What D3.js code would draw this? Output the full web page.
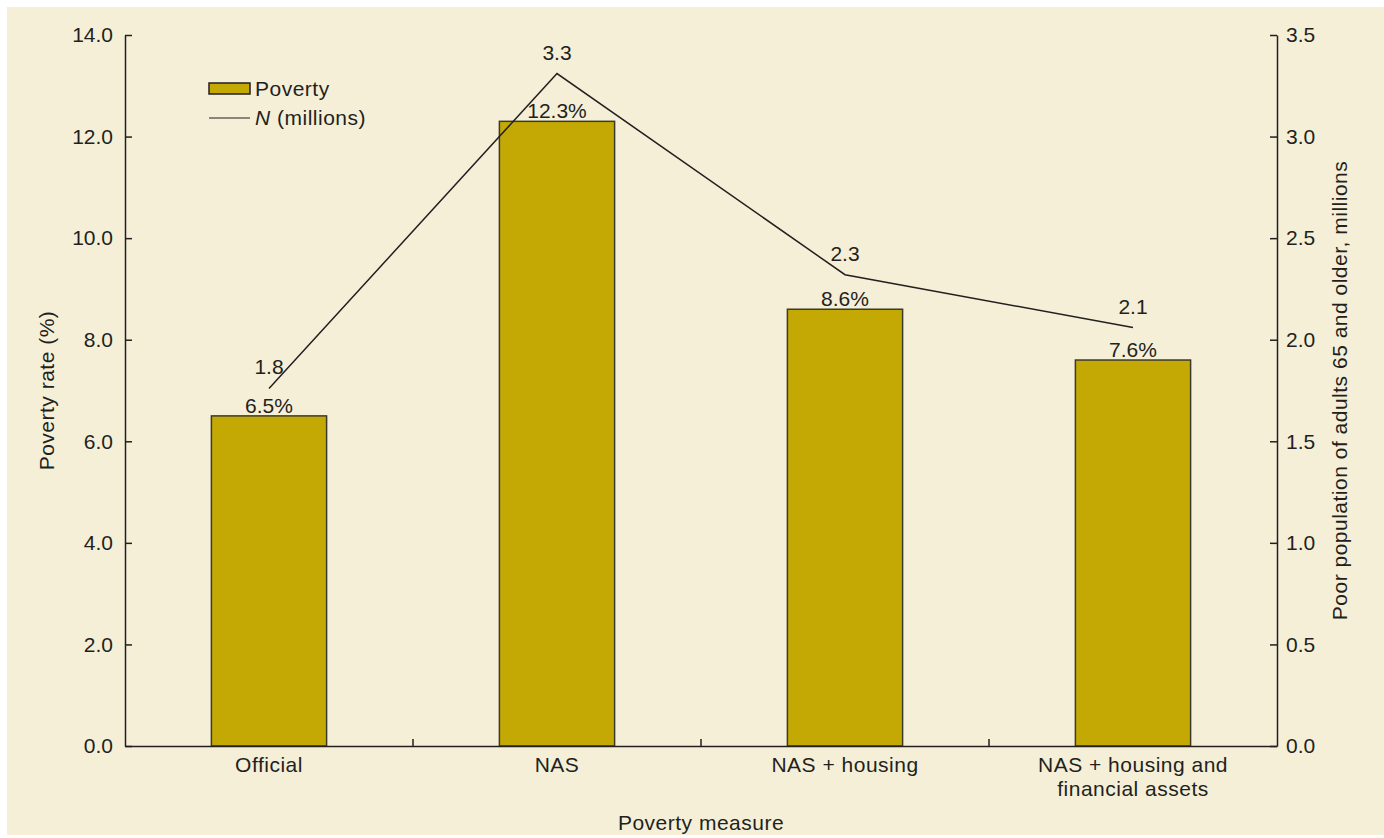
<!DOCTYPE html>
<html>
<head>
<meta charset="utf-8">
<script src="https://cdn.jsdelivr.net/npm/d3@7"></script>
<style>
  body { margin: 0; background: #fff; }
  svg text { font-family: "Liberation Sans", Arial, sans-serif; fill: #231f20; }
  svg text.word { letter-spacing: 0.5px; }
</style>
</head>
<body>
<script>
// poverty measures
var categories = ["Official", "NAS", "NAS + housing", "NAS + housing and financial assets"];
var povertyRate = [6.5, 12.3, 8.6, 7.6];      // bars, %
var poorMillions = [1.76, 3.31, 2.32, 2.06];   // line, millions
var leftTicks = [0, 2, 4, 6, 8, 10, 12, 14];
var rightTicks = [0, 0.5, 1, 1.5, 2, 2.5, 3, 3.5];

var W = 1384, H = 838;
var mLeft = 125, mRight = 1277, mTop = 35, mBottom = 746;
var fs = 21;

var svg = d3.select("body").append("svg")
        .attr("width", W)
        .attr("height", H);

// beige panel
svg.append("rect")
        .attr("x", 7).attr("y", 7)
        .attr("width", W - 7).attr("height", H - 10)
        .attr("fill", "#f5efd8");

var x = d3.scaleBand()
        .domain(categories)
        .range([mLeft, mRight])
        .paddingInner(0.6)
        .paddingOuter(0.3);

var yL = d3.scaleLinear().domain([0, 14]).range([mBottom, mTop]);
var yR = d3.scaleLinear().domain([0, 3.5]).range([mBottom, mTop]);

// bars
svg.selectAll("rect.bar")
        .data(povertyRate)
        .enter().append("rect")
                .attr("class", "bar")
                .attr("x", function(d, i){ return x(categories[i]); })
                .attr("y", function(d){ return yL(d); })
                .attr("width", x.bandwidth())
                .attr("height", function(d){ return mBottom - yL(d); })
                .attr("fill", "#c4a904")
                .attr("stroke", "#3b3a2c")
                .attr("stroke-width", 1.5);

// bar labels
svg.selectAll("text.barlab")
        .data(povertyRate)
        .enter().append("text")
                .attr("class", "barlab")
                .attr("x", function(d, i){ return x(categories[i]) + x.bandwidth() / 2; })
                .attr("y", function(d){ return yL(d) - 3; })
                .attr("text-anchor", "middle")
                .attr("font-size", fs)
                .text(function(d){ return d.toFixed(1) + "%"; });

// left axis
var axL = svg.append("g")
        .attr("transform", "translate(" + mLeft + ",0)")
        .call(d3.axisLeft(yL).tickValues(leftTicks).tickSizeInner(-7).tickSizeOuter(0).tickPadding(12)
                .tickFormat(d3.format(".1f")));

// right axis
var axR = svg.append("g")
        .attr("transform", "translate(" + mRight + ",0)")
        .call(d3.axisRight(yR).tickValues(rightTicks).tickSizeInner(-7).tickSizeOuter(0).tickPadding(9)
                .tickFormat(d3.format(".1f")));

// bottom axis, labels only
var axB = svg.append("g")
        .attr("transform", "translate(0," + mBottom + ")")
        .call(d3.axisBottom(x).tickSize(0).tickPadding(11));

[axL, axR, axB].forEach(function(g){
        g.selectAll("path.domain").attr("stroke", "#231f20").attr("stroke-width", 1.5);
        g.selectAll("line").attr("stroke", "#231f20").attr("stroke-width", 1.5);
        g.selectAll("text").attr("font-size", fs).attr("font-family", null).attr("fill", "#231f20");
});
axB.selectAll("text").attr("class", "word");

// wrap the long category into two lines
axB.selectAll(".tick text").each(function(d){
        if (d === categories[3]) {
                var t = d3.select(this);
                t.text(null);
                t.append("tspan").attr("x", 0).attr("dy", "0.71em").text("NAS + housing and");
                t.append("tspan").attr("x", 0).attr("dy", "1.15em").text("financial assets");
                t.attr("dy", null);
        }
});

// boundary ticks on x axis, pointing up
svg.selectAll("line.xtick")
        .data(categories.slice(1))
        .enter().append("line")
                .attr("class", "xtick")
                .attr("x1", function(d){ return x(d) - x.step() * x.paddingInner() / 2; })
                .attr("x2", function(d){ return x(d) - x.step() * x.paddingInner() / 2; })
                .attr("y1", mBottom)
                .attr("y2", mBottom - 7)
                .attr("stroke", "#231f20")
                .attr("stroke-width", 1.5);

// line for N (millions)
var line = d3.line()
        .x(function(d, i){ return x(categories[i]) + x.bandwidth() / 2; })
        .y(function(d){ return yR(d); });

svg.append("path")
        .datum(poorMillions)
        .attr("d", line)
        .attr("fill", "none")
        .attr("stroke", "#231f20")
        .attr("stroke-width", 1.5);

svg.selectAll("text.linelab")
        .data(poorMillions)
        .enter().append("text")
                .attr("class", "linelab")
                .attr("x", function(d, i){ return x(categories[i]) + x.bandwidth() / 2; })
                .attr("y", function(d){ return yR(d) - 14; })
                .attr("text-anchor", "middle")
                .attr("font-size", fs)
                .text(function(d){ return d.toFixed(1); });

// axis titles
svg.append("text")
        .attr("class", "word")
        .attr("transform", "translate(54," + (mTop + mBottom) / 2 + ") rotate(-90)")
        .attr("text-anchor", "middle")
        .attr("font-size", fs)
        .text("Poverty rate (%)");

svg.append("text")
        .attr("class", "word")
        .attr("transform", "translate(1347," + (mTop + mBottom) / 2 + ") rotate(-90)")
        .attr("text-anchor", "middle")
        .attr("font-size", fs)
        .text("Poor population of adults 65 and older, millions");

svg.append("text")
        .attr("class", "word")
        .attr("x", (mLeft + mRight) / 2)
        .attr("y", 830)
        .attr("text-anchor", "middle")
        .attr("font-size", fs)
        .text("Poverty measure");

// legend
var lg = svg.append("g").attr("transform", "translate(209,83)");
lg.append("rect")
        .attr("width", 41).attr("height", 11)
        .attr("fill", "#c4a904")
        .attr("stroke", "#231f20")
        .attr("stroke-width", 1.5);
lg.append("text").attr("class", "word").attr("x", 46).attr("y", 13).attr("font-size", fs).text("Poverty");
lg.append("line")
        .attr("x1", 0).attr("x2", 41).attr("y1", 35).attr("y2", 35)
        .attr("stroke", "#231f20").attr("stroke-width", 1.2);
var nt = lg.append("text").attr("class", "word").attr("x", 46).attr("y", 42).attr("font-size", fs);
nt.append("tspan").attr("font-style", "italic").text("N");
nt.append("tspan").text(" (millions)");
</script>
</body>
</html>
